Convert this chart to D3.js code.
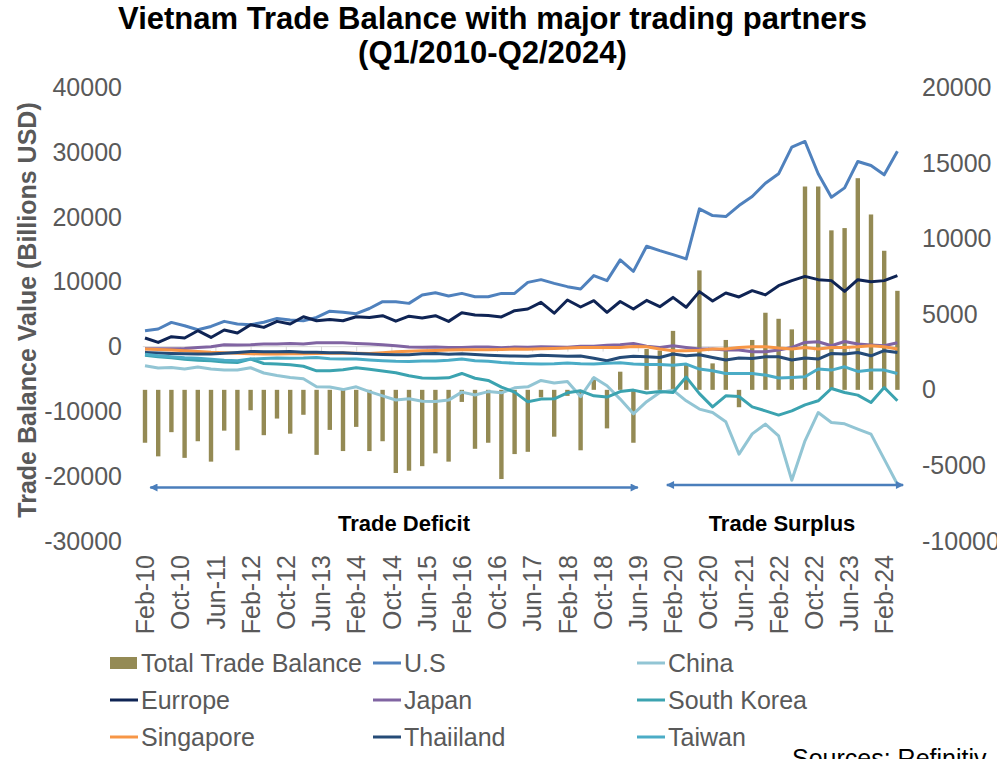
<!DOCTYPE html>
<html>
<head>
<meta charset="utf-8">
<script src="https://cdn.jsdelivr.net/npm/d3@7"></script>
<style>
body{margin:0;background:#fff;}
text{font-family:"Liberation Sans",Arial,sans-serif;}
</style>
</head>
<body>
<div id="chart"></div>
<script>
// quarterly periods Feb-10 .. May-24
var periods = d3.timeMonth.range(new Date(2010,1,1), new Date(2024,5,1), 3)

// values (bars on right axis, lines on left axis)
var total = [-3500,-4400,-2800,-4500,-3400,-4750,-2700,-4000,-1350,-3000,
  -1900,-2900,-1650,-4300,-2650,-4050,-2450,-4050,-3400,-5500,
  -5350,-5050,-4200,-4750,-800,-3900,-3500,-5900,-4250,-4100,
  -500,-3100,-400,-4000,800,-2550,1200,-3500,2700,2600,
  3900,1700,7900,1750,3300,-1150,3300,5100,4700,4000,
  13450,13450,10550,10700,14000,11600,9200,6550]
var us = [2460,2720,3740,3230,2610,3120,3900,3490,3390,3770,
  4360,4110,4000,4510,5470,5320,5090,5890,6940,6940,
  6680,7980,8330,7820,8220,7710,7710,8220,8220,9920,
  10340,9770,9260,8900,10960,10190,13390,11620,15490,14820,
  14200,13540,21270,20230,20080,21780,23170,25220,26680,30790,
  31670,26680,23060,24510,28580,27960,26520,30170]
var china = [-2950,-3310,-3220,-3460,-3150,-3460,-3600,-3620,-3260,-4070,
  -4450,-4760,-4960,-6200,-6240,-6630,-6200,-6940,-7590,-8240,
  -8050,-8440,-8470,-8250,-7020,-7470,-6940,-7130,-6350,-6200,
  -5220,-5610,-5390,-7710,-4760,-6040,-8100,-10370,-8490,-7080,
  -6710,-8360,-9640,-10170,-11600,-16600,-13460,-11960,-13770,-20620,
  -14530,-10170,-11710,-11910,-12730,-13500,-17370,-21240]
var europe = [1330,650,1530,1330,2460,1420,2570,2100,3390,2970,
  3900,3490,4620,4000,4190,4000,4620,4510,4780,3930,
  4700,4420,4780,3900,5240,4900,4820,4580,5550,5810,
  6830,5160,7200,6120,7090,5290,6970,5810,7140,6170,
  7600,6090,8490,7050,8280,7670,8640,7990,9410,10190,
  10850,10340,10190,8530,10340,10030,10190,10960]
var japan = [-330,-330,-330,-280,-120,-20,290,250,290,400,
  400,500,400,600,600,600,500,400,290,140,
  -60,-90,-60,-120,-120,-60,-60,-170,-60,-90,
  -20,-60,-90,60,60,220,290,500,60,-120,
  140,-120,-370,-370,-530,-530,-790,-790,-530,-120,
  650,760,140,800,400,250,140,600]
var korea = [-1330,-1560,-1720,-1950,-2100,-2180,-2380,-2440,-1920,-2600,
  -2690,-2800,-3030,-3730,-3730,-3570,-3260,-3490,-3770,-4030,
  -4500,-4850,-4880,-4810,-4140,-4880,-5220,-6240,-7020,-8520,
  -8100,-8050,-7130,-6820,-7590,-7790,-6940,-6710,-7160,-6930,
  -7080,-4700,-7250,-9290,-7590,-7700,-9290,-9910,-10570,-9910,
  -8980,-8360,-6460,-7080,-7480,-8630,-6310,-8360]
var singapore = [-370,-430,-530,-630,-740,-870,-940,-1020,-1100,-1140,
  -1140,-1100,-1100,-1050,-1020,-990,-1020,-1050,-940,-790,
  -710,-630,-590,-530,-480,-480,-480,-430,-370,-400,
  -330,-280,-220,-120,-120,-120,-120,30,-20,-370,
  -630,-630,-560,-370,-370,-120,-20,-20,-220,-370,
  -120,-370,-120,-120,-20,140,-20,-370]
var thailand = [-900,-990,-1050,-1100,-1140,-1140,-1020,-900,-740,-790,
  -790,-740,-870,-870,-940,-940,-1050,-1140,-1210,-1250,
  -1250,-1100,-1050,-1180,-1100,-1220,-1330,-1410,-1450,-1480,
  -1330,-1410,-1480,-1450,-1790,-2180,-1670,-1480,-1560,-1670,
  -1140,-1410,-1250,-1670,-2070,-1760,-1820,-1560,-1560,-2070,
  -1760,-1920,-1050,-1140,-900,-1410,-630,-900]
var taiwan = [-1180,-1410,-1560,-1720,-1790,-1950,-2100,-2180,-1920,-1820,
  -1760,-1790,-1760,-1670,-1870,-1920,-1920,-2070,-2180,-2260,
  -2290,-2230,-2230,-2100,-1920,-2180,-2260,-2440,-2570,-2640,
  -2690,-2640,-2540,-2640,-2690,-2570,-2490,-2690,-2770,-2750,
  -2880,-2690,-3460,-3730,-4140,-4140,-4140,-4390,-4850,-4760,
  -4650,-3460,-3620,-3110,-3830,-3620,-3620,-4140]

var leftTicks = [-30000,-20000,-10000,0,10000,20000,30000,40000]
var rightTicks = [-10000,-5000,0,5000,10000,15000,20000]
var labelEvery = 8 // months between date labels

var lineSeries = [
  {name:"U.S", values:us, colour:"#4F81BD"},
  {name:"China", values:china, colour:"#92C5D4"},
  {name:"Eurrope", values:europe, colour:"#0F2454"},
  {name:"Japan", values:japan, colour:"#8064A2"},
  {name:"South Korea", values:korea, colour:"#3BA3B0"},
  {name:"Singapore", values:singapore, colour:"#F79646"},
  {name:"Thaiiland", values:thailand, colour:"#254B77"},
  {name:"Taiwan", values:taiwan, colour:"#4BACC6"}
]
var barColour = "#948A54"
var grey = "#595959"

var w = 997, h = 759
var svg = d3.select("#chart").append("svg").attr("width", w).attr("height", h)

// month index since Feb-10 (date axis with month base unit)
var monthIdx = function(d) { return (d.getFullYear()-2010)*12 + d.getMonth() - 1 }
var x = d3.scaleLinear().domain([-0.5, 171.5]).range([142.8, 899.6])
var yL = d3.scaleLinear().domain([-30000, 40000]).range([541, 87.5])
var yR = d3.scaleLinear().domain([-10000, 20000]).range([541, 87.5])

// title
svg.append("text").attr("x", 492.5).attr("y", 29).attr("text-anchor", "middle")
  .style("font-size", "31px").style("font-weight", "bold").attr("fill", "#000")
  .text("Vietnam Trade Balance with major trading partners")
svg.append("text").attr("x", 492.5).attr("y", 63).attr("text-anchor", "middle")
  .style("font-size", "31px").style("font-weight", "bold").attr("fill", "#000")
  .text("(Q1/2010-Q2/2024)")

// y title
svg.append("text").attr("transform", "translate(36,310) rotate(-90)").attr("text-anchor", "middle")
  .style("font-size", "25px").style("font-weight", "bold").attr("fill", grey)
  .text("Trade Balance Value (Billions USD)")

// left / right axes (plain hyphen for negatives, like Excel)
var plain = function(v) { return String(v) }
var gl = svg.append("g").attr("transform", "translate(122,0)")
  .call(d3.axisLeft(yL).tickValues(leftTicks).tickSize(0).tickPadding(0).tickFormat(plain))
var gr = svg.append("g").attr("transform", "translate(922,0)")
  .call(d3.axisRight(yR).tickValues(rightTicks).tickSize(0).tickPadding(0).tickFormat(plain))
;[gl, gr].forEach(function(g) {
  g.select(".domain").remove()
  g.selectAll("text").style("font-size", "25px").attr("fill", grey)
    .style("font-family", '"Liberation Sans",Arial,sans-serif')
})

// category axis line crossing at left 0
var tickMonths = d3.range(0, 172, labelEvery)
var gx = svg.append("g").attr("transform", "translate(0," + yL(0) + ")")
  .call(d3.axisBottom(x).tickValues(tickMonths).tickSize(5).tickFormat(""))
gx.selectAll("line").attr("stroke", "#d9d9d9")
gx.select(".domain").attr("stroke", "#d9d9d9").attr("d", "M" + x.range()[0] + ",0H" + x.range()[1])

// date labels
var fmt = d3.timeFormat("%b-%y")
var gxl = svg.append("g").attr("transform", "translate(0,555)")
  .call(d3.axisBottom(x).tickValues(tickMonths).tickSize(0).tickPadding(0)
    .tickFormat(function(m) { return fmt(new Date(2010, 1 + m, 1)) }))
gxl.select(".domain").remove()
gxl.selectAll("text").attr("transform", "rotate(-90)").attr("text-anchor", "end")
  .attr("x", 0).attr("y", 0).attr("dy", "0.35em")
  .style("font-size", "25px").attr("fill", grey)
  .style("font-family", '"Liberation Sans",Arial,sans-serif')

// bars
var barW = x(1) - x(0)
svg.append("g").selectAll("rect").data(periods).enter().append("rect")
  .attr("x", function(d) { return x(monthIdx(d)) - barW/2 })
  .attr("width", barW)
  .attr("y", function(d, i) { return Math.min(yR(total[i]), yR(0)) })
  .attr("height", function(d, i) { return Math.abs(yR(total[i]) - yR(0)) })
  .attr("fill", barColour)

// lines
var line = d3.line()
  .x(function(v, i) { return x(monthIdx(periods[i])) })
  .y(function(v) { return yL(v) })
svg.append("g").selectAll("path").data(lineSeries).enter().append("path")
  .attr("d", function(s) { return line(s.values) })
  .attr("fill", "none")
  .attr("stroke", function(s) { return s.colour })
  .attr("stroke-width", 3)
  .attr("stroke-linejoin", "round")

// arrows
var arrowColour = "#4A7EBB"
svg.append("defs").append("marker").attr("id", "ah")
  .attr("viewBox", "0 0 10 10").attr("refX", 9).attr("refY", 5)
  .attr("markerWidth", 10).attr("markerHeight", 8).attr("markerUnits", "userSpaceOnUse")
  .attr("orient", "auto-start-reverse")
  .append("path").attr("d", "M0,0L10,5L0,10z").attr("fill", arrowColour)
var arrows = [
  {from: 1.2, to: 112, y: 487.5, label: "Trade Deficit", lx: 404},
  {from: 118.6, to: 172.3, y: 485, label: "Trade Surplus", lx: 782}
]
arrows.forEach(function(a) {
  svg.append("line").attr("x1", x(a.from)).attr("x2", x(a.to)).attr("y1", a.y).attr("y2", a.y)
    .attr("stroke", arrowColour).attr("stroke-width", 2.5)
    .attr("marker-start", "url(#ah)").attr("marker-end", "url(#ah)")
  svg.append("text").attr("x", a.lx).attr("y", 531).attr("text-anchor", "middle")
    .style("font-size", "22px").style("font-weight", "bold").attr("fill", "#000")
    .text(a.label)
})

// legend: 3 columns, row order as in the picture
var legendItems = [{name:"Total Trade Balance", colour:barColour, bar:true}].concat(lineSeries)
var colX = [110, 373, 637], rowY = [663, 700, 737]
var lg = svg.append("g").selectAll("g").data(legendItems).enter().append("g")
  .attr("transform", function(d, i) { return "translate(" + colX[i % 3] + "," + rowY[Math.floor(i / 3)] + ")" })
lg.each(function(d) {
  var g = d3.select(this)
  if (d.bar) {
    g.append("rect").attr("x", 0).attr("y", -6).attr("width", 27).attr("height", 12).attr("fill", d.colour)
  } else {
    g.append("line").attr("x1", 0).attr("x2", 28).attr("y1", 0).attr("y2", 0)
      .attr("stroke", d.colour).attr("stroke-width", 3)
  }
  g.append("text").attr("x", 31).attr("y", 0).attr("dy", "0.35em")
    .style("font-size", "25px").attr("fill", grey).text(d.name)
})

svg.append("text").attr("x", 792).attr("y", 767).style("font-size", "25px").attr("fill", "#000")
  .text("Sources: Refinitiv")
</script>
</body>
</html>
